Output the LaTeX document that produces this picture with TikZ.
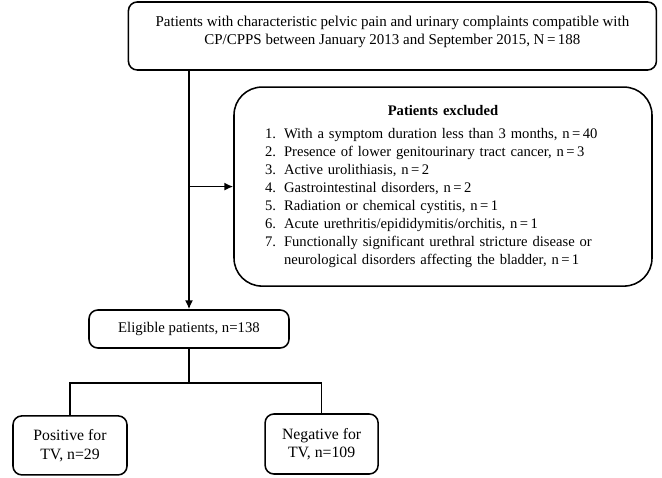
\documentclass[tikz,border=0pt]{standalone}
\usepackage{fontspec}
\setmainfont{Liberation Serif}
\usepackage{tikz}
\usetikzlibrary{arrows.meta,positioning,calc}

\newcommand{\exitem}[1]{\makebox[1.3em][l]{#1}}

\begin{document}
\begin{tikzpicture}[
    box/.style={draw, rounded corners=0.22cm, line width=1.1pt, align=center, font=\fontsize{10.5}{12.3}\selectfont},
    arr/.style={-{Latex[length=2.2mm,width=2mm]}, line width=1.1pt},
    lnk/.style={line width=1.1pt}
]
\useasboundingbox (0,0) rectangle (16.55,11.925);

\node[box, font=\fontsize{10.65}{12.3}\selectfont, minimum width=13.2cm, minimum height=1.7cm] (start) at (9.81,11.025)
    {Patients with characteristic pelvic pain and urinary complaints compatible with\\
     CP/CPPS between January 2013 and September 2015, N\,=\,188\rule[-8pt]{0pt}{8pt}};
\node[box, font=\fontsize{10.4}{12.8}\selectfont, rounded corners=0.7cm, minimum width=10.45cm, minimum height=4.975cm, text width=8.9cm, align=left] (excl) at (11.075,7.26)
    {\makebox[\linewidth][c]{\textbf{Patients excluded}}\\[4pt]
     \exitem{1.}With a symptom duration less than 3 months, n\,=\,40\\
     \exitem{2.}Presence of lower genitourinary tract cancer, n\,=\,3\\
     \exitem{3.}Active urolithiasis, n\,=\,2\\
     \exitem{4.}Gastrointestinal disorders, n\,=\,2\\
     \exitem{5.}Radiation or chemical cystitis, n\,=\,1\\
     \exitem{6.}Acute urethritis/epididymitis/orchitis, n\,=\,1\\
     \exitem{7.}Functionally significant urethral stricture disease or\\
     \exitem{}neurological disorders affecting the bladder, n\,=\,1};
\node[box, minimum width=5cm, minimum height=0.95cm] (elig) at (4.725,3.7) {Eligible patients, n=138};
\node[box, font=\fontsize{11.2}{13.2}\selectfont, minimum width=2.85cm, minimum height=1.475cm] (pos) at (1.75,0.79) {Positive for\\TV, n=29};
\node[box, font=\fontsize{11.2}{13.2}\selectfont, minimum width=2.825cm, minimum height=1.5cm] (neg) at (8.04,0.825) {Negative for\\TV, n=109};

% main flow
\draw[arr] (elig.north |- start.south) -- (elig.north);
\draw[arr] (elig.north |- excl.west) -- (excl.west);

% split into TV groups
\draw[lnk] (elig.south) -- ++(0,-0.85) coordinate (split);
\draw[lnk] (pos.north) |- (split) -| (neg.north);
\end{tikzpicture}
\end{document}
